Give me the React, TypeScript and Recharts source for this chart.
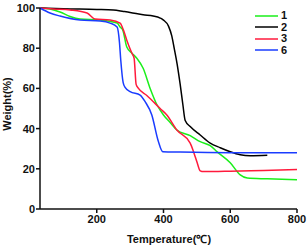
import React from 'react';
import { LineChart, Line, XAxis, YAxis } from 'recharts';

const seriesNames = ['1', '2', '3', '6'];
const seriesColors = ['#1aef1a', '#000000', '#ff1a3c', '#1a3cff'];

const xTicks = [200, 400, 600, 800];
const yTicks = [0, 20, 40, 60, 80, 100];

const temps1 = [30, 60, 90, 120, 150, 210, 261, 270, 278, 290, 305, 320, 339, 360, 380, 400, 420, 440, 480, 510, 540, 561, 600, 630, 651, 711, 800];
const weights1 = [100, 99.5, 98, 95.8, 94.5, 94, 92.5, 90.5, 89, 80.6, 77.6, 75, 70, 60, 52, 46.8, 43, 39.3, 36.5, 33.5, 31.5, 28.4, 23, 17, 15.4, 15, 14.5];

const temps2 = [30, 100, 200, 250, 280, 300, 339, 369, 390, 400, 415, 425, 432, 441, 450, 458, 465, 480, 510, 540, 570, 600, 630, 660, 711];
const weights2 = [100, 99.6, 99.3, 99, 98.3, 97.8, 96.6, 96, 95, 94, 91, 86, 80, 72, 62, 52, 44, 41, 36.8, 32.8, 30.5, 28.5, 27, 26.5, 26.7];

const temps3 = [30, 70, 120, 171, 195, 240, 270, 280, 290, 305, 312, 318, 325, 350, 390, 410, 440, 480, 489, 495, 501, 510, 520, 600, 700, 800];
const weights3 = [100, 99.5, 99, 97.5, 94.5, 94, 92.5, 89, 84, 77.6, 75, 62, 60, 56.5, 50, 46.8, 39.3, 32.8, 29, 26, 23, 19, 18.6, 18.8, 19.2, 19.6];

const temps6 = [30, 60, 90, 150, 210, 240, 261, 268, 272, 279, 285, 300, 330, 345, 365, 384, 398, 450, 600, 800];
const weights6 = [100, 97.5, 96, 94, 93.5, 92.5, 90.5, 83, 74, 63, 60.5, 58.4, 56.7, 53.4, 46.8, 34, 28.5, 28.3, 28, 28];

const build = (ts: number[], ws: number[]) => ts.map((t, i) => ({ t, w: ws[i] }));
const seriesData = [build(temps1, weights1), build(temps2, weights2), build(temps3, weights3), build(temps6, weights6)];

const FONT = '"Liberation Sans", Arial, sans-serif';
const tickStyle = { fontFamily: FONT, fontSize: 11, fontWeight: 700, fill: '#111' };

const LegendBox = () => (
  <div style={{ position: 'absolute', left: 255, top: 10, fontFamily: FONT, fontSize: 11, fontWeight: 700, color: '#111' }}>
    {seriesNames.map((n, i) => (
      <div key={n} style={{ display: 'flex', alignItems: 'center', height: 11.5 }}>
        <svg width={23} height={4} style={{ display: 'block' }}>
          <line x1={0} y1={2} x2={23} y2={2} stroke={seriesColors[i]} strokeWidth={1.5} />
        </svg>
        <span style={{ marginLeft: 3, lineHeight: '11.5px' }}>{n}</span>
      </div>
    ))}
  </div>
);

export default function App() {
  return (
    <div style={{ position: 'absolute', left: 0, top: 0, width: 307, height: 248, background: '#fff' }}>
      <LineChart width={307} height={248} margin={{ top: 8, right: 10, left: 0, bottom: 9 }}>
        <XAxis
          dataKey="t"
          type="number"
          domain={[30, 800]}
          ticks={xTicks}
          tickSize={4}
          tickMargin={2}
          height={30}
          tick={tickStyle}
          axisLine={{ stroke: '#111', strokeWidth: 1.5 }}
          tickLine={{ stroke: '#111', strokeWidth: 1.5 }}
          label={{
            content: () => (
              <text x={169} y={243} textAnchor="middle" fontFamily={FONT} fontSize={11} fontWeight={700} fill="#111">
                Temperature(℃)
              </text>
            ),
          }}
        />
        <YAxis
          type="number"
          domain={[0, 100]}
          ticks={yTicks}
          width={40}
          tickSize={4}
          tickMargin={1}
          tick={tickStyle}
          axisLine={{ stroke: '#111', strokeWidth: 1.5 }}
          tickLine={{ stroke: '#111', strokeWidth: 1.5 }}
          label={{
            content: () => (
              <text x={11} y={104} transform="rotate(-90 11 104)" textAnchor="middle" fontFamily={FONT} fontSize={11} fontWeight={700} fill="#111">
                Weight(%)
              </text>
            ),
          }}
        />
        {seriesNames.map((n, i) => (
          <Line
            key={n}
            data={seriesData[i]}
            dataKey="w"
            name={n}
            type="monotone"
            stroke={seriesColors[i]}
            strokeWidth={1.5}
            dot={false}
            activeDot={false}
            isAnimationActive={false}
          />
        ))}
      </LineChart>
      <LegendBox />
    </div>
  );
}
